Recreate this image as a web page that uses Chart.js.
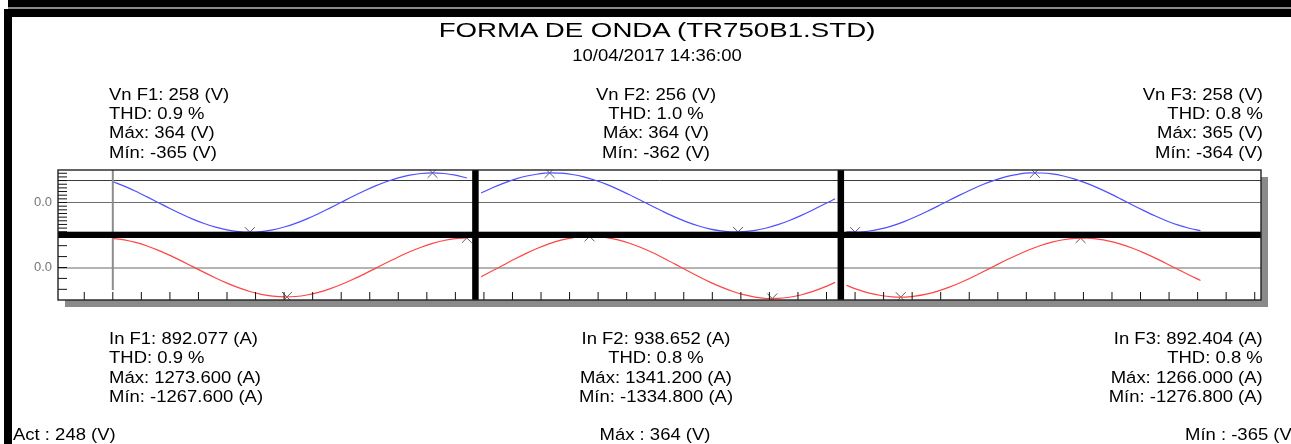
<!DOCTYPE html>
<html>
<head>
<meta charset="utf-8">
<script src="https://cdn.jsdelivr.net/npm/chart.js@4.4.1/dist/chart.umd.min.js"></script>
<style>
  html, body { margin: 0; padding: 0; background: #fff; overflow: hidden; }
  #wrap { position: relative; width: 1291px; height: 444px; overflow: hidden; background: #fff; }
  #wrap canvas { position: absolute; left: 0; top: 0; }
  .bar { position: absolute; }
  .txt { position: absolute; font-family: "Liberation Sans", Arial, sans-serif; font-size: 16.3px;
         line-height: 19.3px; color: #000; white-space: pre; }
  .l { transform-origin: left top; transform: scaleX(1.135); text-align: left; }
  .c { transform: translateX(-50%) scaleX(1.135); text-align: center; }
  .r { transform-origin: right top; transform: scaleX(1.135); text-align: right; }
  .title { font-size: 20.5px; line-height: 24px; transform: translateX(-50%) scaleX(1.35); }
</style>
</head>
<body>
<div id="wrap">
  <canvas id="scope" width="1291" height="444"></canvas>
  <div class="bar" style="left:8px;top:0;width:1283px;height:7px;background:#000"></div>
  <div class="bar" style="left:8px;top:7px;width:1283px;height:2px;background:#8a8a8a"></div>
  <div class="bar" style="left:4px;top:9px;width:1287px;height:8px;background:#000"></div>
  <div class="bar" style="left:4px;top:9px;width:8px;height:435px;background:#000"></div>

  <div id="title" class="txt title" style="left:656.5px;top:18.2px"></div>
  <div id="stamp" class="txt c" style="left:656.5px;top:46.3px"></div>

  <div id="v1" class="txt l" style="left:109.3px;top:84.7px"></div>
  <div id="v2" class="txt c" style="left:656px;top:84.7px"></div>
  <div id="v3" class="txt r" style="right:28.3px;top:84.7px"></div>

  <div id="i1" class="txt l" style="left:109.3px;top:329px"></div>
  <div id="i2" class="txt c" style="left:656px;top:329px"></div>
  <div id="i3" class="txt r" style="right:28.3px;top:329px"></div>

  <div id="sAct" class="txt l" style="left:12.5px;top:424.8px"></div>
  <div id="sMax" class="txt c" style="left:655.3px;top:424.8px"></div>
  <div id="sMin" class="txt l" style="left:1185px;top:424.8px"></div>
</div>

<script>
// ---- Record header ----
const TITLE = 'FORMA DE ONDA (TR750B1.STD)';
const STAMP = '10/04/2017 14:36:00';

// ---- Per-phase statistics ----
const PHASES   = ['F1', 'F2', 'F3'];
const V_RMS    = [258, 256, 258];
const V_THD    = [0.9, 1.0, 0.8];
const V_MAX    = [364, 364, 365];
const V_MIN    = [-365, -362, -364];
const I_RMS    = [892.077, 938.652, 892.404];
const I_THD    = [0.9, 0.8, 0.8];
const I_MAX    = [1273.6, 1341.2, 1266.0];
const I_MIN    = [-1267.6, -1334.8, -1276.8];

// ---- Summary line ----
const SUM_ACT = 248;
const SUM_MAX = 364;
const SUM_MIN = -365;

// ---- Sample windows (sample index, 128 samples per cycle) ----
const SAMPLE_STEP = 4;
const SEG_START   = [10, 139, 267];
const PHASE_SPLIT = [137, 265];

// sample index where each extreme was captured
const V_MAX_AT = [122, 163, 333];
const V_MIN_AT = [58, 229, 270];
const I_MAX_AT = [134, 177, 349];
const I_MIN_AT = [71, 241, 286];

// ---- Waveform samples: voltage (V) ----
const V_F1 = [256, 201, 138, 69, -2, -73, -141, -204, -259, -304, -338, -358, -365, -358, -337, -302,
              -257, -201, -138, -69, 2, 73, 141, 204, 259, 304, 337, 357, 364, 357, 336, 302];
const V_F2 = [116, 181, 239, 288, 326, 351, 364, 361, 345, 316, 274, 223, 162, 95, 25, -46,
              -115, -180, -238, -286, -324, -349, -362, -359, -343, -314, -273, -221, -161, -95, -25, 46];
const V_F3 = [-361, -364, -351, -325, -287, -238, -179, -114, -45, 27, 97, 164, 225, 276, 318, 347,
              365, 363, 352, 326, 288, 238, 180, 115, 45, -27, -97, -164, -224, -276, -317, -346];

// ---- Waveform samples: current (A) ----
const I_F1 = [1256, 1191, 1079, 927, 739, 522, 285, 38, -211, -450, -673, -869, -1033, -1156, -1235, -1267.6,
              -1250, -1185, -1074, -922, -735, -519, -284, -37, 212, 453, 676, 874, 1038, 1162, 1241, 1273.6];
const I_F2 = [-400, -144, 118, 377, 621, 840, 1028, 1176, 1279, 1341.2, 1336, 1287, 1189, 1045, 861, 644,
              402, 145, -118, -375, -618, -836, -1023, -1171, -1273, -1334.8, -1330, -1281, -1183, -1040, -857, -641];
const I_F3 = [-770, -954, -1102, -1206, -1265, -1276.8, -1235, -1149, -1018, -848, -646, -418, -175, 74, 320, 552,
              764, 946, 1092, 1196, 1254, 1266, 1225, 1139, 1009, 841, 640, 415, 174, -75, -322, -557];

// ---- Axis set-up ----
const X_MIN = -9.2, X_MAX = 412.2, X_TICK = 10;
const V_RANGE = 400, V_TICK = 45, V_GUIDE = 270;
const I_RANGE = 1400, I_TICK = 470;

// ---- Text blocks ----
const fmtA = n => n.toFixed(3);
document.getElementById('title').textContent = TITLE;
document.getElementById('stamp').textContent = STAMP;
PHASES.forEach((p, k) => {
  document.getElementById('v' + (k + 1)).textContent =
    `Vn ${p}: ${V_RMS[k]} (V)\nTHD: ${V_THD[k].toFixed(1)} %\nMáx: ${V_MAX[k]} (V)\nMín: ${V_MIN[k]} (V)`;
  document.getElementById('i' + (k + 1)).textContent =
    `In ${p}: ${fmtA(I_RMS[k])} (A)\nTHD: ${I_THD[k].toFixed(1)} %\nMáx: ${fmtA(I_MAX[k])} (A)\nMín: ${fmtA(I_MIN[k])} (A)`;
});
document.getElementById('sAct').textContent = `Act : ${SUM_ACT} (V)`;
document.getElementById('sMax').textContent = `Máx : ${SUM_MAX} (V)`;
document.getElementById('sMin').textContent = `Mín : ${SUM_MIN} (V)`;

// ---- Datasets ----
const toPoints = (vals, start) => vals.map((y, k) => ({ x: start + k * SAMPLE_STEP, y }));
const VOLT_COLOR = 'rgb(80, 80, 255)';
const AMP_COLOR  = 'rgb(255, 70, 70)';

const traceStyle = {
  pointRadius: 0, borderWidth: 1.2, fill: false,
  cubicInterpolationMode: 'monotone'
};

const datasets = [];
[V_F1, V_F2, V_F3].forEach((vals, k) => datasets.push({
  label: 'V ' + PHASES[k], data: toPoints(vals, SEG_START[k]), yAxisID: 'yV',
  borderColor: VOLT_COLOR, ...traceStyle
}));
[I_F1, I_F2, I_F3].forEach((vals, k) => datasets.push({
  label: 'I ' + PHASES[k], data: toPoints(vals, SEG_START[k]), yAxisID: 'yI',
  borderColor: AMP_COLOR, ...traceStyle
}));

const markerStyle = {
  showLine: false, pointStyle: 'crossRot', pointRadius: 7, pointBorderWidth: 1,
  pointBorderColor: '#5a5a5a', pointBackgroundColor: 'transparent', borderColor: '#5a5a5a'
};
datasets.push({
  label: 'V extremes', yAxisID: 'yV', ...markerStyle,
  data: PHASES.flatMap((p, k) => [{ x: V_MAX_AT[k], y: V_MAX[k] }, { x: V_MIN_AT[k], y: V_MIN[k] }])
});
datasets.push({
  label: 'I extremes', yAxisID: 'yI', ...markerStyle,
  data: PHASES.flatMap((p, k) => [{ x: I_MAX_AT[k], y: I_MAX[k] }, { x: I_MIN_AT[k], y: I_MIN[k] }])
});

// ---- Scope frame: shadow, inner ticks, separators, cursor ----
const scopeFrame = {
  id: 'scopeFrame',
  beforeDraw(chart) {
    const { ctx, chartArea: a } = chart;
    ctx.save();
    ctx.fillStyle = '#8a8a8a';
    ctx.fillRect(a.left + 7, a.top + 7, a.width, a.height);
    ctx.fillStyle = '#fff';
    ctx.fillRect(a.left, a.top, a.width, a.height);
    ctx.restore();
  },
  afterDatasetsDraw(chart) {
    const { ctx, chartArea: a, scales } = chart;
    const { x, yV, yI } = scales;
    ctx.save();

    // cursor at the first captured sample
    const cx = x.getPixelForValue(SEG_START[0]);
    ctx.strokeStyle = '#8c8c8c';
    ctx.lineWidth = 2;
    ctx.beginPath(); ctx.moveTo(cx, a.top); ctx.lineTo(cx, a.bottom - 10); ctx.stroke();

    // inward ticks
    ctx.strokeStyle = '#111';
    ctx.lineWidth = 1;
    ctx.beginPath();
    for (let v = -Math.floor(V_RANGE / V_TICK) * V_TICK; v < V_RANGE; v += V_TICK) {
      const y = yV.getPixelForValue(v);
      ctx.moveTo(a.left, y); ctx.lineTo(a.left + 9, y);
    }
    for (let v = -Math.floor(I_RANGE / I_TICK) * I_TICK; v < I_RANGE; v += I_TICK) {
      const y = yI.getPixelForValue(v);
      ctx.moveTo(a.left, y); ctx.lineTo(a.left + 9, y);
    }
    for (let v = Math.ceil(X_MIN / X_TICK) * X_TICK; v <= X_MAX; v += X_TICK) {
      const px = x.getPixelForValue(v);
      ctx.moveTo(px, a.bottom - 8); ctx.lineTo(px, a.bottom);
    }
    ctx.stroke();

    // panel separators
    ctx.fillStyle = '#000';
    ctx.fillRect(a.left, yV.bottom - 3.3, a.width, 6.3);
    PHASE_SPLIT.forEach(s => {
      const px = x.getPixelForValue(s);
      ctx.fillRect(px - 3.2, a.top, 6.5, a.height);
    });

    // outline
    ctx.strokeStyle = '#222';
    ctx.lineWidth = 1.4;
    ctx.strokeRect(a.left, a.top, a.width, a.height);
    ctx.restore();
  }
};

const zeroLabel = v => (v === 0 ? '0.0' : '');
const axisFont = { family: 'Liberation Sans', size: 13 };

new Chart(document.getElementById('scope'), {
  type: 'line',
  data: { datasets },
  options: {
    responsive: false,
    animation: false,
    events: [],
    layout: { padding: { left: 0, top: 170, right: 30, bottom: 144 } },
    plugins: { legend: { display: false }, tooltip: { enabled: false }, title: { display: false } },
    scales: {
      x: { type: 'linear', min: X_MIN, max: X_MAX, display: false },
      yV: {
        type: 'linear', position: 'left', stack: 'scope', stackWeight: 1, weight: 2,
        min: -V_RANGE, max: V_RANGE,
        afterBuildTicks: s => { s.ticks = [{ value: 0 }, { value: V_GUIDE }]; },
        afterFit: s => { s.width = 58; },
        ticks: { callback: zeroLabel, color: '#767676', font: axisFont, padding: 6, autoSkip: false },
        grid: {
          drawTicks: false, lineWidth: 1,
          color: c => (c.tick && c.tick.value === 0 ? '#6e6e6e' : '#3a3a3a')
        },
        border: { display: false }
      },
      yI: {
        type: 'linear', position: 'left', stack: 'scope', stackWeight: 1, weight: 1,
        min: -I_RANGE, max: I_RANGE,
        afterBuildTicks: s => { s.ticks = [{ value: 0 }]; },
        afterFit: s => { s.width = 58; },
        ticks: { callback: zeroLabel, color: '#767676', font: axisFont, padding: 6, autoSkip: false },
        grid: { drawTicks: false, lineWidth: 2, color: '#b4b4b4' },
        border: { display: false }
      }
    }
  },
  plugins: [scopeFrame]
});
</script>
</body>
</html>
